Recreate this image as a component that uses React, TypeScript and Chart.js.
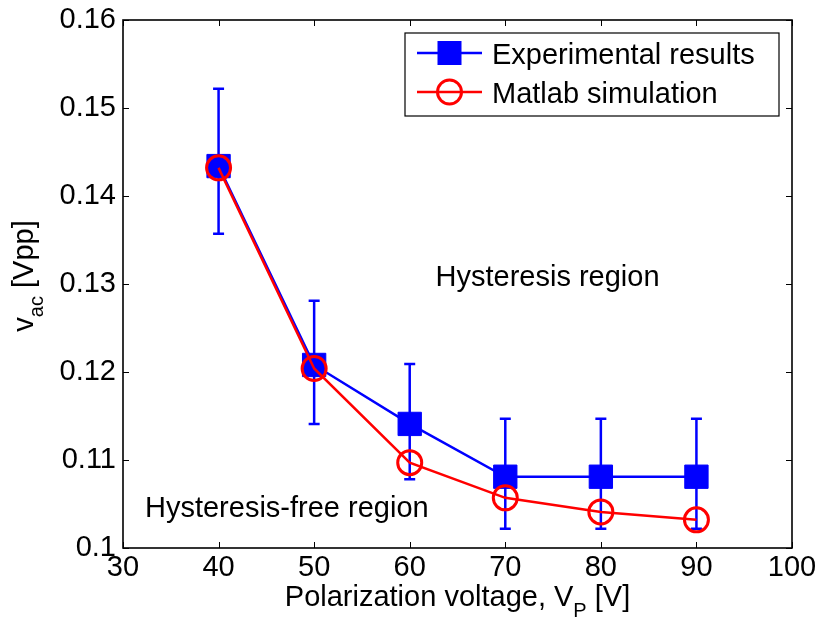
import React, { useEffect, useRef } from 'react';
import { Chart, registerables } from 'chart.js';

Chart.register(...registerables);

const voltages = [40, 50, 60, 70, 80, 90];
const experimental = [0.1434, 0.1208, 0.1141, 0.1081, 0.1081, 0.1081];
const experimentalUpper = [0.1522, 0.1281, 0.1209, 0.1147, 0.1147, 0.1147];
const experimentalLower = [0.1357, 0.1141, 0.1078, 0.1022, 0.1022, 0.1022];
const simulation = [0.1432, 0.1204, 0.1097, 0.1057, 0.1041, 0.1032];

const xTickValues = [30, 40, 50, 60, 70, 80, 90, 100];
const xTickLabels = ['30', '40', '50', '60', '70', '80', '90', '100'];
const yTickValues = [0.1, 0.11, 0.12, 0.13, 0.14, 0.15, 0.16];
const yTickLabels = ['0.1', '0.11', '0.12', '0.13', '0.14', '0.15', '0.16'];

const seriesLabels = ['Experimental results', 'Matlab simulation'];
const regionLabels = ['Hysteresis region', 'Hysteresis-free region'];

const FONT = "'Liberation Sans', Arial, Helvetica, sans-serif";
const FS = 29;
const BLUE = '#0000ff';
const RED = '#ff0000';

type Part = { t: string; sub?: boolean };

function drawParts(ctx: CanvasRenderingContext2D, parts: Part[], cx: number, base: number, main: number, sub: number, shift: number) {
  const widths = parts.map((p) => {
    ctx.font = `${p.sub ? sub : main}px ${FONT}`;
    return ctx.measureText(p.t).width;
  });
  const total = widths.reduce((a, b) => a + b, 0);
  let x = cx - total / 2;
  parts.forEach((p, i) => {
    ctx.font = `${p.sub ? sub : main}px ${FONT}`;
    ctx.fillText(p.t, x, base + (p.sub ? shift : 0));
    x += widths[i];
  });
}

const matlabPlugin = {
  id: 'matlabDecor',
  afterDatasetDraw(chart: any, args: any) {
    if (args.index !== 0) return;
    const ctx: CanvasRenderingContext2D = chart.ctx;
    const xs = chart.scales.x;
    const ys = chart.scales.y;
    ctx.save();
    ctx.strokeStyle = BLUE;
    ctx.lineWidth = 2.5;
    voltages.forEach((v, i) => {
      const px = xs.getPixelForValue(v);
      const top = ys.getPixelForValue(experimentalUpper[i]);
      const bot = ys.getPixelForValue(experimentalLower[i]);
      ctx.beginPath();
      ctx.moveTo(px, top);
      ctx.lineTo(px, bot);
      ctx.moveTo(px - 5.5, top);
      ctx.lineTo(px + 5.5, top);
      ctx.moveTo(px - 5.5, bot);
      ctx.lineTo(px + 5.5, bot);
      ctx.stroke();
    });
    ctx.restore();
  },
  afterDraw(chart: any) {
    const ctx: CanvasRenderingContext2D = chart.ctx;
    const { left, right, top, bottom } = chart.chartArea;
    const xs = chart.scales.x;
    const ys = chart.scales.y;
    ctx.save();

    // axes box
    ctx.strokeStyle = '#000';
    ctx.lineWidth = 1.6;
    ctx.strokeRect(left, top, right - left, bottom - top);

    // inward ticks
    ctx.lineWidth = 1;
    ctx.beginPath();
    xTickValues.forEach((v) => {
      const px = Math.round(xs.getPixelForValue(v)) + 0.5;
      ctx.moveTo(px, bottom);
      ctx.lineTo(px, bottom - 6);
      ctx.moveTo(px, top);
      ctx.lineTo(px, top + 6);
    });
    yTickValues.forEach((v) => {
      const py = Math.round(ys.getPixelForValue(v)) + 0.5;
      ctx.moveTo(left, py);
      ctx.lineTo(left + 6, py);
      ctx.moveTo(right, py);
      ctx.lineTo(right - 6, py);
    });
    ctx.stroke();

    // region annotations
    ctx.fillStyle = '#000';
    ctx.textAlign = 'left';
    ctx.textBaseline = 'alphabetic';
    ctx.font = `${FS}px ${FONT}`;
    ctx.fillText(regionLabels[0], xs.getPixelForValue(62.7), ys.getPixelForValue(0.1298));
    ctx.fillText(regionLabels[1], xs.getPixelForValue(32.3), ys.getPixelForValue(0.1035));

    // x title
    drawParts(
      ctx,
      [{ t: 'Polarization voltage, V' }, { t: 'P', sub: true }, { t: ' [V]' }],
      (left + right) / 2,
      606,
      FS,
      20,
      11
    );

    // y title
    ctx.save();
    ctx.translate(33, 276);
    ctx.rotate(-Math.PI / 2);
    drawParts(ctx, [{ t: 'v' }, { t: 'ac', sub: true }, { t: ' [Vpp]' }], 0, 0, FS, 20, 10);
    ctx.restore();

    // legend
    const lw = 374;
    const lh = 83;
    const lx = right - 13 - lw;
    const ly = top + 13;
    ctx.fillStyle = '#fff';
    ctx.fillRect(lx, ly, lw, lh);
    ctx.strokeStyle = '#000';
    ctx.lineWidth = 1.2;
    ctx.strokeRect(lx, ly, lw, lh);
    const rows = [ly + 20, ly + 59];
    const x0 = lx + 12;
    const x1 = lx + 77;
    const mx = (x0 + x1) / 2;
    ctx.strokeStyle = BLUE;
    ctx.lineWidth = 2.5;
    ctx.beginPath();
    ctx.moveTo(x0, rows[0]);
    ctx.lineTo(x1, rows[0]);
    ctx.stroke();
    ctx.fillStyle = BLUE;
    ctx.fillRect(mx - 12, rows[0] - 12, 24, 24);
    ctx.strokeStyle = RED;
    ctx.beginPath();
    ctx.moveTo(x0, rows[1]);
    ctx.lineTo(x1, rows[1]);
    ctx.stroke();
    ctx.lineWidth = 3;
    ctx.beginPath();
    ctx.arc(mx, rows[1], 12, 0, Math.PI * 2);
    ctx.stroke();
    ctx.fillStyle = '#000';
    ctx.font = `${FS}px ${FONT}`;
    ctx.fillText(seriesLabels[0], lx + 87, rows[0] + 11);
    ctx.fillText(seriesLabels[1], lx + 87, rows[1] + 11);

    ctx.restore();
  },
};

export default function App() {
  const ref = useRef<HTMLCanvasElement | null>(null);

  useEffect(() => {
    if (!ref.current) return;
    Chart.defaults.font.family = FONT;
    const chart = new Chart(ref.current, {
      type: 'line',
      data: {
        datasets: [
          {
            label: seriesLabels[0],
            data: voltages.map((v, i) => ({ x: v, y: experimental[i] })),
            borderColor: BLUE,
            backgroundColor: BLUE,
            borderWidth: 2.5,
            pointStyle: 'rect',
            pointRadius: 16.5,
            pointBorderWidth: 1,
            pointBackgroundColor: BLUE,
            pointBorderColor: BLUE,
            tension: 0,
            order: 1,
          },
          {
            label: seriesLabels[1],
            data: voltages.map((v, i) => ({ x: v, y: simulation[i] })),
            borderColor: RED,
            backgroundColor: 'rgba(0,0,0,0)',
            borderWidth: 2.5,
            pointStyle: 'circle',
            pointRadius: 12,
            pointBorderWidth: 3,
            pointBackgroundColor: 'rgba(0,0,0,0)',
            pointBorderColor: RED,
            tension: 0,
            order: 0,
          },
        ],
      },
      options: {
        responsive: false,
        animation: false,
        events: [],
        layout: { padding: { top: 20, right: 28, bottom: 0, left: 0 } },
        plugins: {
          legend: { display: false },
          tooltip: { enabled: false },
          title: { display: false },
        },
        scales: {
          x: {
            type: 'linear',
            min: 30,
            max: 100,
            grid: { display: false, drawTicks: false },
            border: { display: false },
            afterBuildTicks: (scale: any) => {
              scale.ticks = xTickValues.map((v) => ({ value: v }));
            },
            afterFit: (scale: any) => {
              scale.height = 71;
              scale.paddingLeft = 0;
              scale.paddingRight = 0;
            },
            ticks: {
              color: '#000',
              font: { size: FS, family: FONT },
              padding: 3,
              maxRotation: 0,
              autoSkip: false,
              callback: (_v: any, i: number) => xTickLabels[i],
            },
          },
          y: {
            type: 'linear',
            min: 0.1,
            max: 0.16,
            grid: { display: false, drawTicks: false },
            border: { display: false },
            afterBuildTicks: (scale: any) => {
              scale.ticks = yTickValues.map((v) => ({ value: v }));
            },
            afterFit: (scale: any) => {
              scale.width = 123;
              scale.paddingTop = 0;
              scale.paddingBottom = 0;
            },
            ticks: {
              color: '#000',
              font: { size: FS, family: FONT },
              padding: 7,
              autoSkip: false,
              callback: (_v: any, i: number) => yTickLabels[i],
            },
          },
        },
      },
      plugins: [matlabPlugin],
    } as any);
    return () => chart.destroy();
  }, []);

  return (
    <div style={{ position: 'fixed', left: 0, top: 0, width: 820, height: 619, background: '#fff' }}>
      <canvas ref={ref} width={820} height={619} style={{ width: 820, height: 619, display: 'block' }} />
    </div>
  );
}
